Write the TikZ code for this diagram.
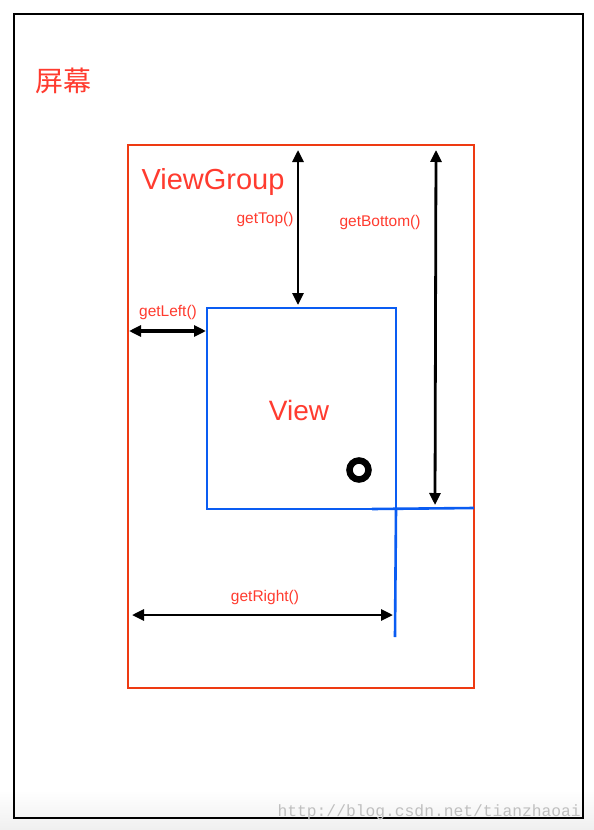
\documentclass[tikz,border=0pt]{standalone}
\usepackage{fontspec}
\setmainfont{Liberation Sans}
\newfontfamily\cjk{Noto Sans CJK SC}
\newfontfamily\wmfont{Liberation Mono}
\usetikzlibrary{arrows.meta}
\definecolor{vgred}{HTML}{EE3A12}
\definecolor{txtred}{HTML}{FF3B2F}
\definecolor{vblue}{HTML}{0A5CF2}
\tikzset{
  dim/.style={line width=2.8pt, {Triangle[length=12pt,width=11pt]}-{Triangle[length=12pt,width=11pt]}},
  lbl/.style={text=txtred, inner sep=0pt, font=\fontsize{15.5}{17}\selectfont},
  big/.style={text=txtred, inner sep=0pt, font=\fontsize{29}{32}\selectfont}
}
\begin{document}
\begin{tikzpicture}[x=1pt,y=-1pt]
\useasboundingbox (0,0) rectangle (594,830);
\fill[white] (0,0) rectangle (594,830);
\shade[top color=white, bottom color=black!6] (0,790) rectangle (594,830);
% screen
\draw[line width=2.8pt] (14,14) rectangle (583,818);
\node[big, font=\cjk\fontsize{28}{32}\selectfont] (screen) at (63,81) {屏幕};
% viewgroup
\draw[vgred, line width=2.6pt] (128,145) rectangle (474,688);
\node[big] (vg) at (213,182) {ViewGroup};
% view
\draw[vblue, line width=2.6pt] (207,308) rectangle (396,509);
\node[big, font=\fontsize{28}{30}\selectfont] (view) at (299,410) {View};
\draw[vblue, line width=2.6pt] (372,509) -- (474,508);
\draw[vblue, line width=2.6pt] (396,509) -- (395,637);
% point
\draw[line width=6.5pt] (359,470) circle (9.5);
% dimension arrows
\coordinate (topA) at (298,150);
\coordinate (topB) at (298,305);
\draw[dim] (topA) -- (topB);
\node[lbl] (gtop) at (265,219) {getTop()};
\coordinate (botA) at (436,150);
\coordinate (botB) at (435,505);
\draw[dim] (botA) -- (botB);
\node[lbl] (gbot) at (380,222) {getBottom()};
\coordinate (leftA) at (129,331);
\coordinate (leftB) at (206,331);
\draw[dim, line width=3.6pt] (leftA) -- (leftB);
\node[lbl] (gleft) at (168,312) {getLeft()};
\coordinate (rightA) at (132,615);
\coordinate (rightB) at (393,615);
\draw[dim] (rightA) -- (rightB);
\node[lbl] (gright) at (265,597) {getRight()};
% watermark
\node[anchor=base east, inner sep=0pt, text=black!25, font=\wmfont\fontsize{16.3}{18}\selectfont] (wm) at (581,816) {http://blog.csdn.net/tianzhaoai};
\end{tikzpicture}
\end{document}
